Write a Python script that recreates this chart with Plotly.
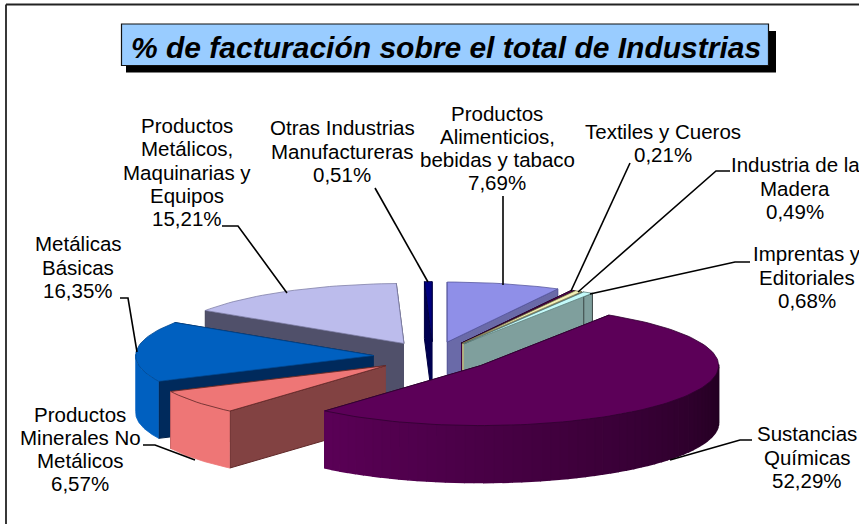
import numpy as np
import plotly.graph_objects as go

# ---- data (clockwise from 12 o'clock) ----
categories = ["Productos<br>Alimenticios,<br>bebidas y tabaco", "Textiles y Cueros",
              "Industria de la<br>Madera", "Imprentas y<br>Editoriales",
              "Sustancias<br>Químicas", "Productos<br>Minerales No<br>Metálicos",
              "Metálicas<br>Básicas", "Productos<br>Metálicos,<br>Maquinarias y<br>Equipos",
              "Otras Industrias<br>Manufactureras"]
values = [7.69, 0.21, 0.49, 0.68, 52.29, 6.57, 16.35, 15.21, 0.51]
top_colors = ["#8f8fe8", "#5c0058", "#f2f0b8", "#c4fafa", "#5c0058", "#ee7676", "#0060c0", "#bcbcec", "#000080"]
rim_colors = ["#7070b8", "#4a0048", "#c8c898", "#84a4a2", "#5a0056", "#ee7676", "#0060c0", "#5c5c80", "#000060"]
wall_colors = ["#6a6aa8", "#400040", "#b0b080", "#7f9f9d", "#4e004c", "#824242", "#002a5c", "#50506a", "#000050"]
edge_colors = ["#5858a0", "#300030", "#807850", "#60807e", "#300030", "#602828", "#004890", "#8080a8", "#000040"]
wall_edges = ["#4a4a90", "#111111", "#111111", "#3a4544", "#300030", "#602828", "#002048", "#404058", "#000040"]
title_text = "% de facturación sobre el total de Industrias"

# ---- pie geometry (page pixels) ----
CX, CY, RX, RY, DEPTH, PULL = 433.0, 356.6, 238.0, 60.0, 57.0, 0.25
draw_order = [7, 8, 0, 1, 2, 3, 6, 5, 4]
rim_dark = {4: 0.38}
LINE_STEP = 23.2

label_cfg = {0: (497, 148), 1: (663, 143), 2: (795, 188), 3: (807, 277), 4: (807, 457),
             5: (80, 449), 6: (78, 267), 7: (187, 172), 8: (342, 151)}
leaders = {
    0: [(503, 196), (503, 285)],
    1: [(630, 163), (571, 291)],
    2: [(730, 171), (716, 171), (578, 292)],
    3: [(750, 262), (735, 262), (590, 294)],
    4: [(752, 440), (740, 440), (670, 460)],
    5: [(143, 445), (155, 445), (195, 460)],
    6: [(120, 298), (128, 298), (137, 352)],
    7: [(222, 226), (238, 226), (287, 293)],
    8: [(375, 188), (428, 282)],
}

fig = go.Figure()


def mix(hex_color, factor):
    c = [int(hex_color[i:i + 2], 16) for i in (1, 3, 5)]
    return "rgb(%d,%d,%d)" % tuple(round(v * factor) for v in c)


def poly(xs, ys, fill, line=None, w=0.8):
    fig.add_trace(go.Scatter(x=list(xs), y=list(ys), mode="lines", fill="toself", fillcolor=fill,
                             line=dict(color=line or fill, width=w), hoverinfo="skip", showlegend=False))


edges = np.concatenate([[0], np.cumsum(values)]) / sum(values) * 2 * np.pi


def rim_xy(ax, ay, t):
    return ax + RX * np.sin(t), ay - RY * np.cos(t)


for i in draw_order:
    a0, a1 = edges[i], edges[i + 1]
    mid = (a0 + a1) / 2
    ax, ay = CX + PULL * RX * np.sin(mid), CY - PULL * RY * np.cos(mid)
    # radial walls
    for t in (a1, a0):
        rx_, ry_ = rim_xy(ax, ay, t)
        poly([ax, rx_, rx_, ax], [ay, ry_, ry_ + DEPTH, ay + DEPTH], wall_colors[i], wall_edges[i], 1.0)
    # outer rim wall, front-facing part
    lo, hi = max(a0, np.pi / 2 - 0.02), min(a1, 3 * np.pi / 2 + 0.02)
    if hi > lo:
        if i in rim_dark:
            ts = np.linspace(lo, hi, max(2, int((hi - lo) / 0.04)) + 1)
            for t0, t1 in zip(ts[:-1], ts[1:]):
                tm = (t0 + t1) / 2
                f = rim_dark[i] + (1 - rim_dark[i]) * min(1.0, (tm - np.pi / 2) / (np.pi * 0.72))
                c = mix(rim_colors[i], f)
                x0, y0 = rim_xy(ax, ay, t0)
                x1, y1 = rim_xy(ax, ay, t1)
                poly([x0, x1, x1, x0], [y0, y1, y1 + DEPTH, y0 + DEPTH], c, c, 1.6)
        else:
            ts = np.linspace(lo, hi, 40)
            x_, y_ = rim_xy(ax, ay, ts)
            poly(np.r_[x_, x_[::-1]], np.r_[y_, y_[::-1] + DEPTH], rim_colors[i], rim_colors[i], 0.8)
    # top face
    ts = np.linspace(a0, a1, max(3, int((a1 - a0) / 0.03)))
    rx_, ry_ = rim_xy(ax, ay, ts)
    poly(np.r_[ax, rx_, ax], np.r_[ay, ry_, ay], top_colors[i], edge_colors[i])

# leader lines
for i, pts in leaders.items():
    xs, ys = zip(*pts)
    fig.add_trace(go.Scatter(x=xs, y=ys, mode="lines", line=dict(color="black", width=1.6),
                             hoverinfo="skip", showlegend=False))

annotations = []
for i, (x, y) in label_cfg.items():
    pct = f"{values[i]:.2f}".replace(".", ",") + "%"
    lines = categories[i].split("<br>") + [pct]
    for k, line in enumerate(lines):
        annotations.append(dict(x=x, y=y + (k - (len(lines) - 1) / 2) * LINE_STEP, xref="x", yref="y",
                                showarrow=False, xanchor="center", yanchor="middle", text=line,
                                font=dict(family="Liberation Sans", size=20.5, color="black")))
annotations.append(dict(x=446, y=47, xref="x", yref="y", showarrow=False, xanchor="center", yanchor="middle",
                        text=f"<b><i>{title_text}</i></b>",
                        font=dict(family="Liberation Sans", size=30, color="black")))

frame_line = dict(color="#222222", width=1.8)
shapes = [
    dict(type="line", layer="below", x0=6, y0=4.5, x1=6, y1=524, line=frame_line),
    dict(type="line", layer="below", x0=6, y0=4.5, x1=859, y1=4.5, line=frame_line),
    dict(type="rect", layer="below", x0=126, y0=31, x1=776, y1=72.5, line=dict(width=0), fillcolor="black"),
    dict(type="rect", layer="below", x0=121.5, y0=24, x1=768.5, y1=65.5, line=dict(color="#111111", width=1.2), fillcolor="#99ccff"),
]

fig.update_layout(
    width=859, height=524, autosize=False, margin=dict(l=0, r=0, t=0, b=0),
    paper_bgcolor="white", plot_bgcolor="white", showlegend=False,
    xaxis=dict(range=[0, 859], visible=False, fixedrange=True),
    yaxis=dict(range=[524, 0], visible=False, fixedrange=True),
    shapes=shapes, annotations=annotations,
)
fig.write_html("out.html", config={"displayModeBar": False},
               post_script="document.body.style.margin='0';document.documentElement.style.overflow='hidden';")
